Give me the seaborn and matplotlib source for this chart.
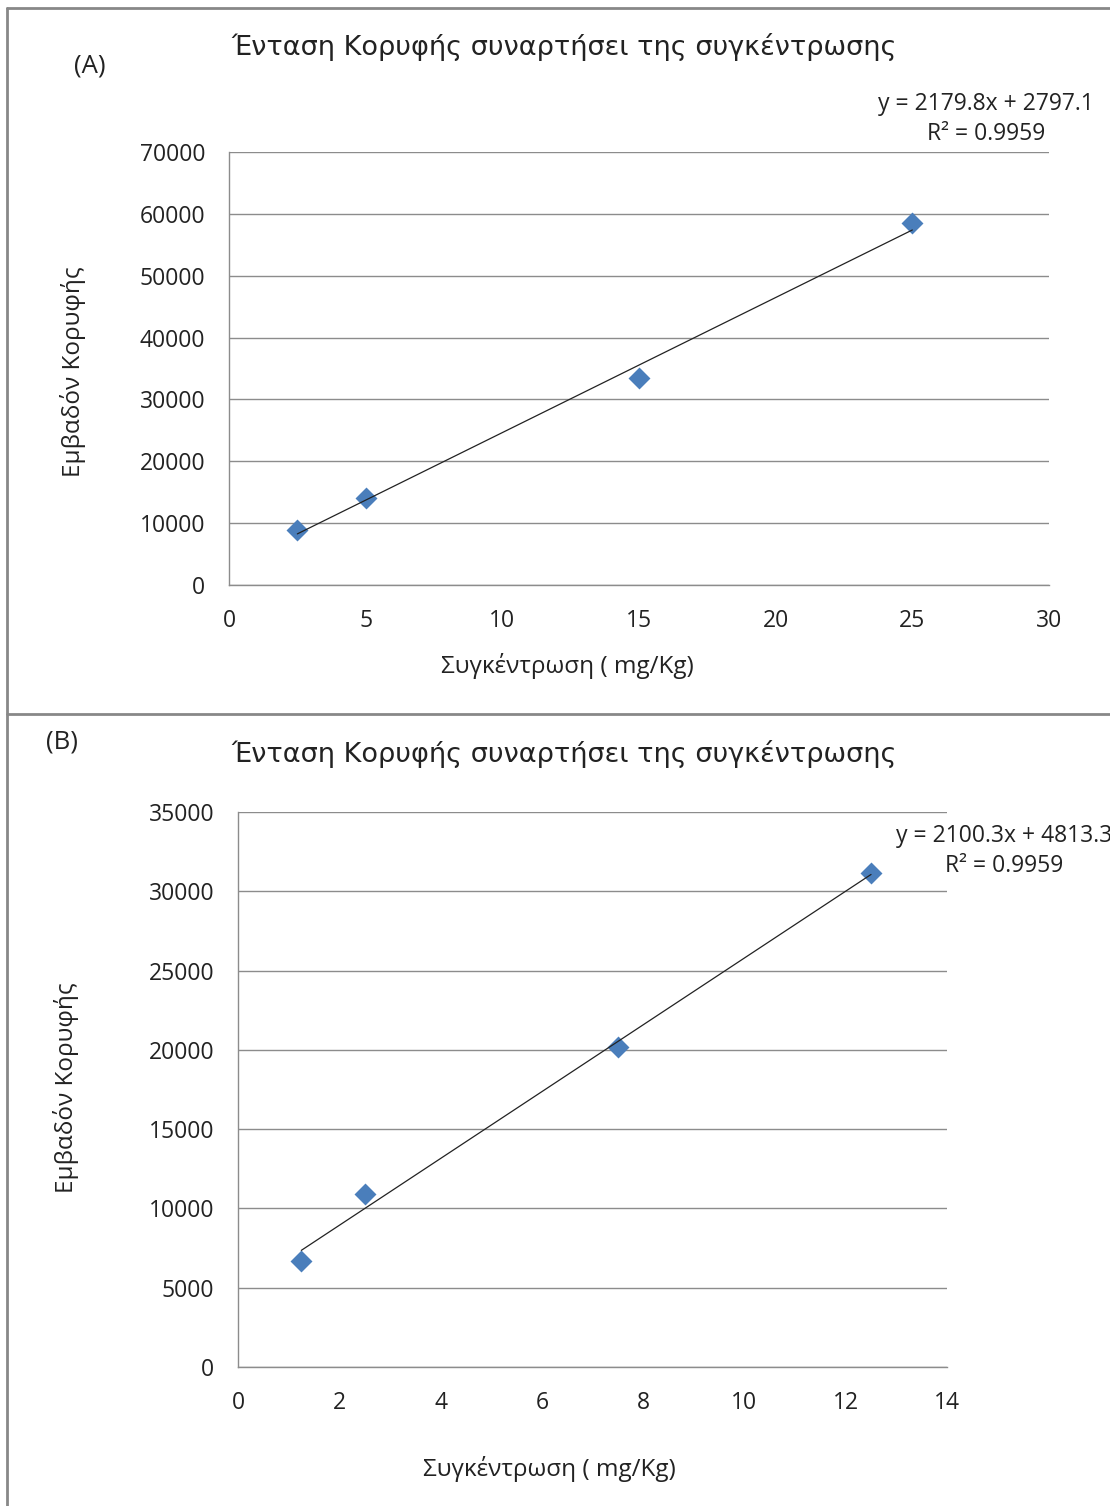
import matplotlib
matplotlib.use('Agg')
import matplotlib.pyplot as plt
import seaborn as sns
import pandas as pd
import numpy as np
from matplotlib.lines import Line2D

# ---- data ----
conc_a = [2.5, 5, 15, 25]
area_a = [8890, 14060, 33460, 58520]
conc_b = [1.25, 2.5, 7.5, 12.5]
area_b = [6690, 10910, 20180, 31150]

eq_a = "y = 2179.8x + 2797.1\nR² = 0.9959"
eq_b = "y = 2100.3x + 4813.3\nR² = 0.9959"
title = "Ένταση Κορυφής συναρτήσει της συγκέντρωσης"
xlabel = "Συγκέντρωση ( mg/Kg)"
ylabel = "Εμβαδόν Κορυφής"

sns.set_theme(style='white')
plt.rcParams['font.family'] = ['Open Sans', 'DejaVu Sans']

W, H = 1110, 1506
fig = plt.figure(figsize=(W / 100, H / 100), dpi=100)


def px_axes(left, top, right, bottom):
    return fig.add_axes([left / W, 1 - bottom / H, (right - left) / W, (bottom - top) / H])


def fx(x):
    return x / W


def fy(y):
    return 1 - y / H


marker_col = '#4A7EBB'
grid_col = '#8c8c8c'


def panel(ax, x, y, xlim, xstep, ylim, ystep):
    df = pd.DataFrame({'x': x, 'y': y})
    sns.scatterplot(data=df, x='x', y='y', marker='D', s=125, color=marker_col,
                    edgecolor=marker_col, linewidth=0, ax=ax, zorder=3, clip_on=False)
    # linear trend line over data range
    k, b = np.polyfit(x, y, 1)
    xs = np.array([min(x), max(x)])
    ax.plot(xs, k * xs + b, color='#222222', lw=0.9, zorder=4)
    ax.set_xlim(*xlim)
    ax.set_ylim(*ylim)
    ax.set_xticks(np.arange(xlim[0], xlim[1] + 0.001, xstep))
    ax.set_yticks(np.arange(ylim[0], ylim[1] + 0.001, ystep))
    ax.yaxis.grid(True, color=grid_col, lw=1)
    ax.xaxis.grid(False)
    for s in ['top', 'right']:
        ax.spines[s].set_visible(False)
    for s in ['left', 'bottom']:
        ax.spines[s].set_color(grid_col)
        ax.spines[s].set_linewidth(1)
    ax.tick_params(axis='both', which='major', direction='out', length=7, width=1,
                   color=grid_col, labelsize=16.5, labelcolor='#222222')
    ax.tick_params(axis='x', pad=10)
    ax.tick_params(axis='y', pad=10)
    ax.set_xlabel('')
    ax.set_ylabel('')


ax_a = px_axes(229, 152, 1049, 585)
panel(ax_a, conc_a, area_a, (0, 30), 5, (0, 70000), 10000)

ax_b = px_axes(238, 812, 947, 1367)
panel(ax_b, conc_b, area_b, (0, 14), 2, (0, 35000), 5000)

txt = '#222222'
title_font = ['DejaVu Sans']
# panel A texts
fig.text(fx(90), fy(66), "(A)", ha='center', va='center', fontsize=18.5, color=txt)
fig.text(fx(564), fy(47), title, ha='center', va='center', fontsize=19.5,
         family=title_font, color=txt)
fig.text(fx(986), fy(119), eq_a, ha='center', va='center', fontsize=16.5,
         color=txt, linespacing=1.3)
fig.text(fx(567), fy(666), xlabel, ha='center', va='center', fontsize=17.5, color=txt)
fig.text(fx(73), fy(372), ylabel, ha='center', va='center', rotation=90,
         fontsize=17.5, color=txt)

# panel B texts
fig.text(fx(62), fy(742), "(B)", ha='center', va='center', fontsize=18.5, color=txt)
fig.text(fx(564), fy(754), title, ha='center', va='center', fontsize=19.5,
         family=title_font, color=txt)
fig.text(fx(1004), fy(851), eq_b, ha='center', va='center', fontsize=16.5,
         color=txt, linespacing=1.3)
fig.text(fx(549), fy(1469), xlabel, ha='center', va='center', fontsize=17.5, color=txt)
fig.text(fx(66), fy(1088), ylabel, ha='center', va='center', rotation=90,
         fontsize=17.5, color=txt)

# frame lines around the two panels
border = '#888888'
fig.add_artist(Line2D([fx(7), 1], [fy(8), fy(8)], color=border, lw=2))
fig.add_artist(Line2D([fx(7), 1], [fy(714), fy(714)], color=border, lw=2))
fig.add_artist(Line2D([fx(7), fx(7)], [fy(8), 0], color=border, lw=2))

fig.savefig('out.png', dpi=100, facecolor='white')
